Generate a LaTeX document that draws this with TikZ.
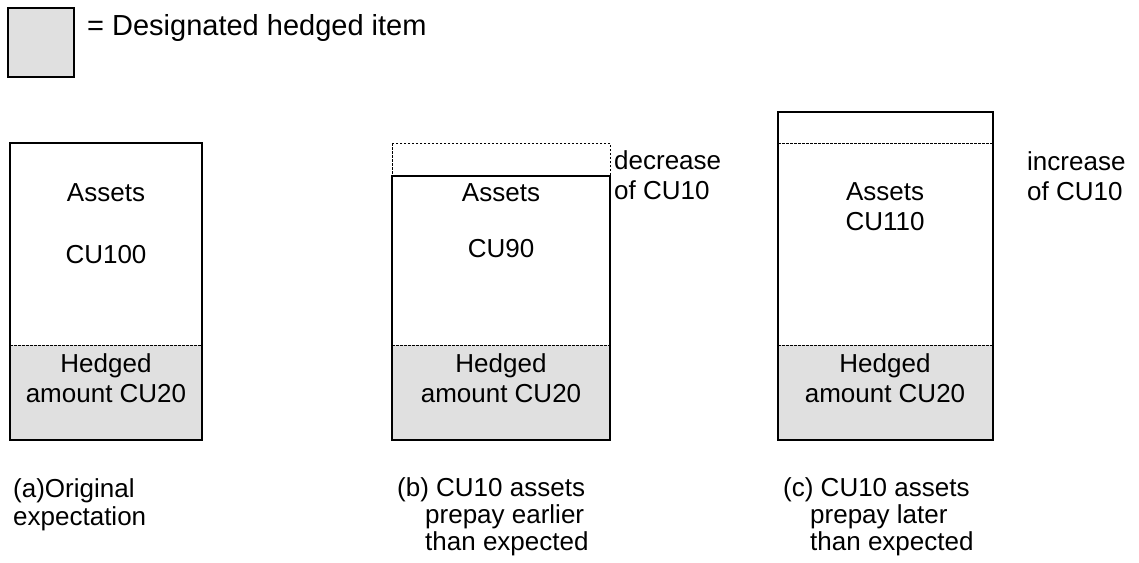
\documentclass[tikz,border=0pt]{standalone}
\usepackage{fontspec}
\setmainfont{Liberation Sans}
\definecolor{hedgegray}{HTML}{E0E0E0}
\tikzset{
  solidbox/.style={draw=black, line width=1.6pt},
  dashline/.style={draw=black, line width=0.7pt, dash pattern=on 2.5pt off 1.5pt},
  hedgefill/.style={fill=hedgegray},
  boxtext/.style={font=\fontsize{26}{30}\selectfont, align=center, inner sep=0pt},
  captext/.style={font=\fontsize{26}{30}\selectfont, anchor=base west, inner sep=0pt},
  sidetext/.style={font=\fontsize{26}{30}\selectfont, anchor=base west, inner sep=0pt},
  legtext/.style={font=\fontsize{29}{34}\selectfont, anchor=base west, inner sep=0pt}
}
\begin{document}
\begin{tikzpicture}[x=1pt,y=-1pt]
\useasboundingbox (0,0) rectangle (1139,562);

% legend
\draw[solidbox, hedgefill] (8,8) rectangle (74,77);
\node[legtext] (leg) at (87,35) {= Designated hedged item};

% box (a)
\fill[hedgefill] (10,345) rectangle (202,440);
\draw[dashline] (10,345) -- (202,345);
\draw[solidbox] (10,143) rectangle (202,440);
\node[boxtext] (aA) at (106,193) {Assets};
\node[boxtext] (aV) at (106,255) {CU100};
\node[boxtext] (aH) at (106,378) {Hedged\\amount CU20};

% box (b)
\fill[hedgefill] (392,345) rectangle (610,440);
\draw[dashline] (392,345) -- (610,345);
\draw[dashline] (392,143) rectangle (610,176);
\draw[solidbox] (392,176) rectangle (610,440);
\node[boxtext] (bA) at (501,193) {Assets};
\node[boxtext] (bV) at (501,249) {CU90};
\node[boxtext] (bH) at (501,378) {Hedged\\amount CU20};
\node[sidetext] (bd1) at (614,169) {decrease};
\node[sidetext] (bd2) at (614,199) {of CU10};

% box (c)
\fill[hedgefill] (778,345) rectangle (993,440);
\draw[dashline] (778,345) -- (993,345);
\draw[dashline] (778,143) -- (993,143);
\draw[solidbox] (778,112) rectangle (993,440);
\node[boxtext] (cA) at (885,207) {Assets\\CU110};
\node[boxtext] (cH) at (885,378) {Hedged\\amount CU20};
\node[sidetext] (ci1) at (1027,170) {increase};
\node[sidetext] (ci2) at (1027,200) {of CU10};

% captions
\node[captext] (ca1) at (13,497) {(a)Original};
\node[captext] (ca2) at (13,525) {expectation};
\node[captext] (cb1) at (397,496) {(b) CU10 assets};
\node[captext] (cb2) at (425,523) {prepay earlier};
\node[captext] (cb3) at (425,550) {than expected};
\node[captext] (cc1) at (783,496) {(c) CU10 assets};
\node[captext] (cc2) at (810,523) {prepay later};
\node[captext] (cc3) at (810,550) {than expected};
\end{tikzpicture}
\end{document}
